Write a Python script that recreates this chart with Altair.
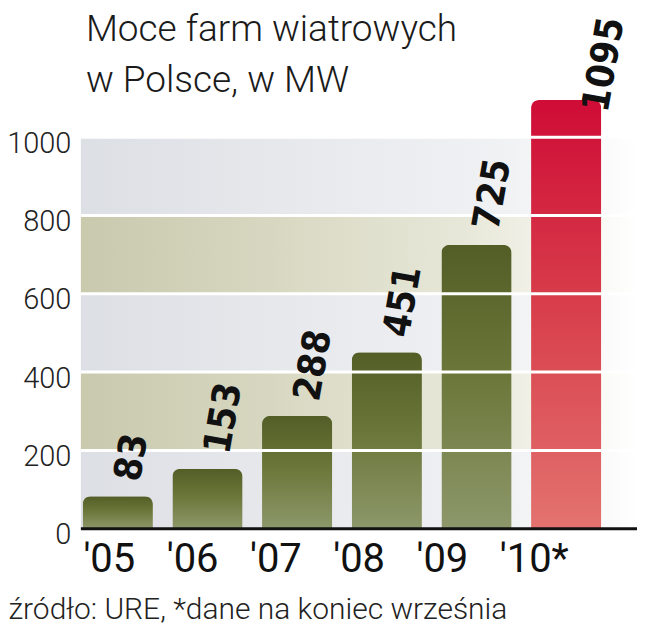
import altair as alt
import pandas as pd

# ---- data ----
years = ["'05", "'06", "'07", "'08", "'09", "'10*"]
values = [83, 153, 288, 451, 725, 1095]
is_current = [False, False, False, False, False, True]

title_lines = ["Moce farm wiatrowych", "w Polsce, w MW"]
source_note = "źródło: URE, *dane na koniec września"

y_ticks = [0, 200, 400, 600, 800, 1000]
band_lo = [0, 200, 400, 600, 800]
band_hi = [200, 400, 600, 800, 1000]
band_kind = ["grey", "olive", "grey", "olive", "grey"]

df = pd.DataFrame({"year": years, "value": values, "current": is_current})
bands = pd.DataFrame({"lo": band_lo, "hi": band_hi, "kind": band_kind})
grid = pd.DataFrame({"v": y_ticks[1:]})
one = pd.DataFrame({"k": [0]})

W, H = 557, 392
yscale = alt.Scale(domain=[0, 1000], nice=False, zero=True)
s_bar = alt.Scale(type="band", domain=years, range=[0, 523],
                  paddingInner=0.217, paddingOuter=0.02)
s_lab = alt.Scale(type="point", domain=years, range=[2, 419], padding=0)


def grad(stops, vertical=False):
    return alt.Gradient(
        gradient="linear",
        x1=0, y1=0,
        x2=0 if vertical else 1,
        y2=1 if vertical else 0,
        stops=[alt.GradientStop(offset=o, color=c) for o, c in stops],
    )


grey_grad = grad([(0, "#dcdfe4"), (0.35, "#e6e8ec"), (0.75, "#f0f1f3"),
                  (0.95, "#fbfbfc"), (1, "#ffffff")])
olive_grad = grad([(0, "#c9c9ae"), (0.35, "#d8d8c2"), (0.7, "#e8e8da"),
                   (0.92, "#f8f8f3"), (1, "#ffffff")])
green_grad = grad([(0, "#525e26"), (0.45, "#6b7639"), (1, "#8d986b")], vertical=True)
red_grad = grad([(0, "#cf0c36"), (0.5, "#d8404c"), (1, "#e3736f")], vertical=True)

yaxis = alt.Axis(values=y_ticks, format="d", domain=False, ticks=False, tickSize=0,
                 grid=False, labelFont="Roboto", labelFontWeight=300,
                 labelFontSize=29, labelColor="#222222", labelPadding=10,
                 labelOffset=6, labelFlush=False, labelOverlap=False,
                 labelBound=False, title=None)

xaxis = alt.Axis(domain=False, ticks=False, tickSize=0, grid=False,
                 labelFont="Roboto", labelFontSize=40, labelColor="#111111",
                 labelAlign="left", labelBaseline="alphabetic", labelPadding=43,
                 labelAngle=0, labelFlush=False, labelOverlap=False, labelBound=False,
                 title=source_note, titleFont="Roboto", titleFontWeight=300,
                 titleFontSize=30, titleColor="#222222", titleAnchor="start",
                 titleAlign="left", titleBaseline="alphabetic", titleX=-73, titleY=90)


def yenc(field):
    return alt.Y(field, scale=yscale, axis=yaxis)


def band_layer(kind, fill):
    return alt.Chart(bands).transform_filter(alt.datum.kind == kind).mark_rect(
        fill=fill).encode(
        x=alt.value(0), x2=alt.value("width"),
        y=yenc("lo:Q"), y2="hi:Q")


grey_bands = band_layer("grey", grey_grad)
olive_bands = band_layer("olive", olive_grad)


def bar_layer(flt, fill):
    return alt.Chart(df).transform_filter(flt).mark_bar(
        fill=fill, cornerRadiusTopLeft=8, cornerRadiusTopRight=8).encode(
        x=alt.X("year:N", scale=s_bar, axis=None),
        y=yenc("value:Q"))


green_bars = bar_layer("!datum.current", green_grad)
red_bars = bar_layer("datum.current", red_grad)

grid_rules = alt.Chart(grid).mark_rule(color="#ffffff", strokeWidth=3).encode(
    x=alt.value(0), x2=alt.value("width"), y=yenc("v:Q"))

base_rule = alt.Chart(one).mark_rule(color="#111111", strokeWidth=3).encode(
    x=alt.value(0), x2=alt.value("width"), y=alt.value(H))

LABEL_FONT = "DejaVu Sans Condensed, DejaVu Sans, sans-serif"


def label_layer(flt, dx, dy):
    return alt.Chart(df).transform_filter(flt).mark_text(
        angle=280, align="left", baseline="middle", dx=dx, dy=dy,
        font=LABEL_FONT, fontWeight="bold", fontSize=38,
        color="#111111").encode(
        x=alt.X("year:N", scale=s_bar, axis=None),
        y=yenc("value:Q"),
        text="value:Q")


green_labels = label_layer("!datum.current", 17, 8)
red_label = label_layer("datum.current", -6, 32)

title = alt.Chart(one).mark_text(
    align="left", baseline="alphabetic", font="Roboto", fontWeight=300,
    fontSize=37, lineHeight=51, color="#1a1a1a").encode(
    x=alt.value(5), y=alt.value(-96), text=alt.value(title_lines))

axis_layer = alt.Chart(df).mark_point(opacity=0).encode(
    x=alt.X("year:N", scale=s_lab, axis=xaxis), y=alt.value(0))

chart = alt.layer(
    grey_bands, olive_bands, green_bars, red_bars, grid_rules, base_rule,
    green_labels, red_label, title, axis_layer
).resolve_scale(x="independent").properties(
    width=W, height=H,
    autosize=alt.AutoSizeParams(type="none"),
    padding={"left": 73, "top": 129, "right": 0, "bottom": 100},
    background="#ffffff",
).configure_view(stroke=None)

chart.save("out.html", embed_options={"renderer": "svg", "actions": False})
